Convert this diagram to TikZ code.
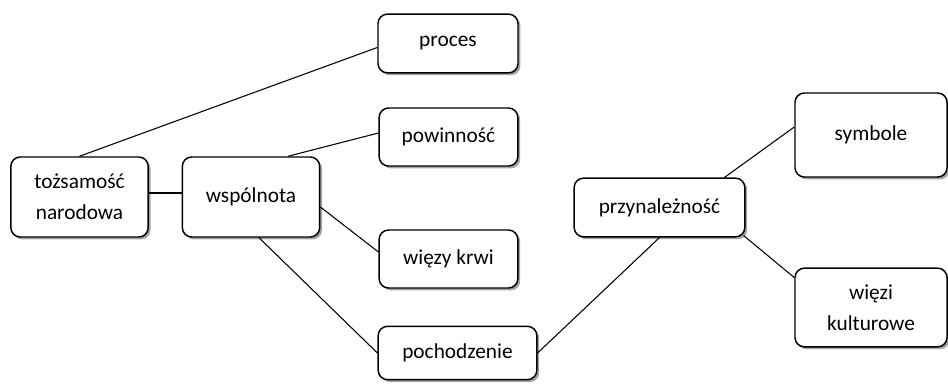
\documentclass[tikz,border=0pt]{standalone}
\usepackage{fontspec}
\setmainfont{Carlito}
\usetikzlibrary{shadows,calc}
\begin{document}
\begin{tikzpicture}[x=0.75pt,y=-0.75pt,
  box/.style={draw=black, line width=1.1pt, rounded corners=7pt, fill=white,
    align=center, font=\fontsize{16pt}{23pt}\selectfont, inner sep=0pt,
    drop shadow={shadow xshift=1.8pt, shadow yshift=-1.8pt, fill=black!45, opacity=0.8}},
  link/.style={draw=black, line width=0.8pt}]
\useasboundingbox (0,0) rectangle (948,385);
\node[box, minimum width=103pt, minimum height=60pt] (toz) at (79.5,197) {tożsamość\\narodowa};
\node[box, minimum width=103pt, minimum height=60pt] (wsp) at (251,197) {wspólnota};
\node[box, minimum width=105pt, minimum height=44pt] (proc) at (448,43.5) {proces};
\node[box, minimum width=104pt, minimum height=43.5pt] (pow) at (448.5,137) {powinność};
\node[box, minimum width=104pt, minimum height=43.5pt] (wkr) at (448.5,259) {więzy krwi};
\node[box, minimum width=119pt, minimum height=40pt] (poch) at (457.5,353) {pochodzenie};
\node[box, minimum width=128pt, minimum height=44pt] (prz) at (659.5,207.5) {przynależność};
\node[box, minimum width=114pt, minimum height=63pt] (sym) at (871,135) {symbole};
\node[box, minimum width=114pt, minimum height=59pt] (wk) at (871,307.5) {więzi\\kulturowe};
\draw[link] (toz.north) -- ($(proc.west)+(0,4)$);
\draw[link] ($(toz.east)+(0,-4)$) -- ($(wsp.west)+(0,-4)$);
\draw[link] ($(wsp.north)+(37,0)$) -- ($(pow.west)+(0,-4)$);
\draw[link] ($(wsp.east)+(0,10)$) -- ($(wkr.west)+(0,-7)$);
\draw[link] ($(wsp.south)+(8,0)$) -- (poch.west);
\draw[link] (poch.east) -- (prz.south);
\draw[link] ($(prz.north)+(65,0)$) -- ($(sym.west)+(0,-8)$);
\draw[link] ($(prz.south east)+(-2,-2)$) -- ($(wk.west)+(0,-30)$);
\end{tikzpicture}
\end{document}
